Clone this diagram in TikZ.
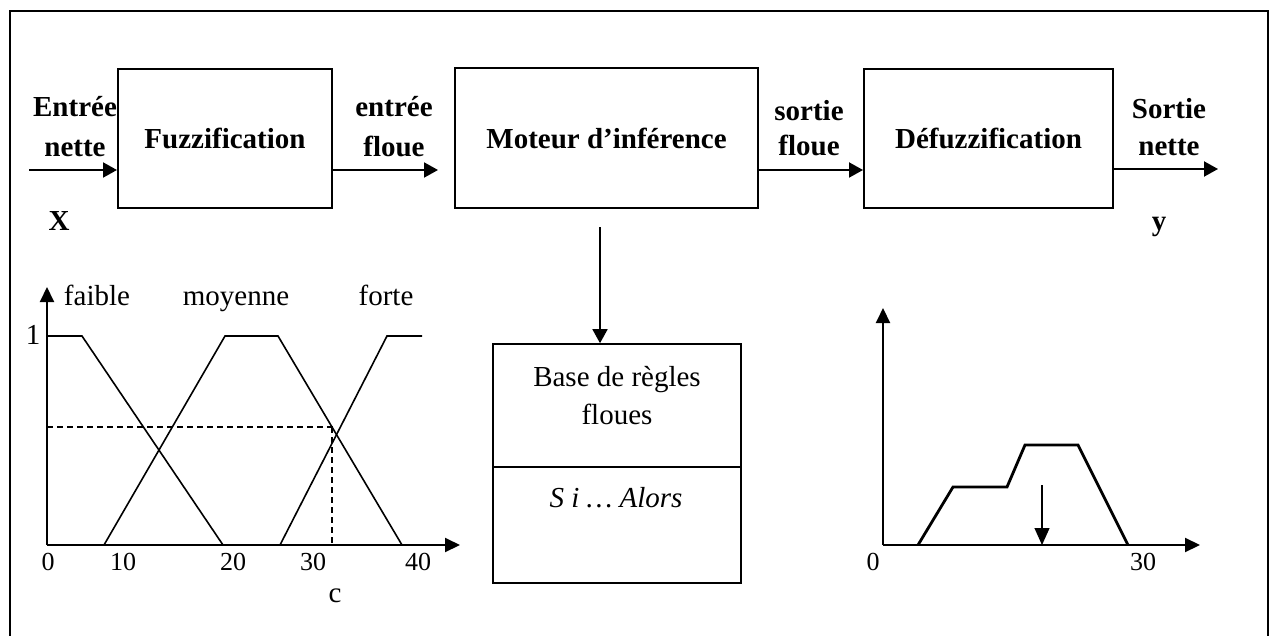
\documentclass[tikz,border=0pt]{standalone}
\usepackage{fontspec}
\setmainfont{Liberation Serif}
\usetikzlibrary{arrows.meta,calc}
\begin{document}
\begin{tikzpicture}[x=0.5pt,y=-0.5pt,
  arr/.style={line width=1pt,-{Triangle[length=7pt,width=7.5pt]}},
  blockbox/.style={draw,line width=1pt,inner sep=0pt,font=\fontsize{14.5}{17}\selectfont\bfseries},
  lbl/.style={inner sep=0pt,align=center,font=\fontsize{14.5}{20}\selectfont\bfseries},
  gtxt/.style={inner sep=0pt,font=\fontsize{14.5}{17}\selectfont},
  num/.style={inner sep=0pt,font=\fontsize{13}{15}\selectfont},
  curve/.style={line width=0.8pt},
  axis/.style={line width=1pt,-{Triangle[length=7.5pt,width=7pt]}},
  dsh/.style={line width=0.8pt,dash pattern=on 3pt off 2pt}]
\useasboundingbox (0,0) rectangle (1272,636);
% outer frame
\draw[line width=1pt] (10,11) rectangle (1268,660);

% blocks
\node[blockbox,minimum width=107pt,minimum height=69.5pt] (fuzz) at (225,138.5) {Fuzzification};
\node[blockbox,minimum width=151.5pt,minimum height=70pt] (mot) at (606.5,138) {Moteur d’inférence};
\node[blockbox,minimum width=124.5pt,minimum height=69.5pt] (defuzz) at (988.5,138.5) {Défuzzification};

% connector end points
\coordinate (inL) at (29,170);
\coordinate (e1) at (438,170);
\coordinate (s1) at (760,170);
\coordinate (out) at (1218,169);
\coordinate (vtop) at (600,227);

\draw[arr] (inL) -- (inL -| fuzz.west);
\draw[arr] (fuzz.east |- e1) -- (e1);
\draw[arr] (mot.east |- s1) -- (s1 -| defuzz.west);
\draw[arr] (defuzz.east |- out) -- (out);

% labels
\node[lbl] (lin) at (75,127) {Entrée\\nette};
\node[lbl] (lef) at (394,127) {entrée\\floue};
\node[lbl,font=\fontsize{14.5}{17.5}\selectfont\bfseries] (lsf) at (809,128) {sortie\\floue};
\node[lbl,font=\fontsize{14.5}{18.5}\selectfont\bfseries] (lsn) at (1169,127) {Sortie\\nette};
\node[lbl,anchor=base] (lx) at (59,230) {X};
\node[lbl,anchor=base] (ly) at (1159,230) {y};

% rule base
\node[draw,line width=0.8pt,minimum width=124pt,minimum height=61.5pt,inner sep=0pt] (rules) at (617,405.5) {};
\node[draw,line width=0.8pt,minimum width=124pt,minimum height=58pt,inner sep=0pt] (sialors) at (617,525) {};
\node[gtxt,align=center,font=\fontsize{14.5}{19}\selectfont] (rtxt) at (617,396) {Base de règles\\floues};
\node[gtxt,font=\fontsize{14.5}{17}\selectfont\itshape] (stxt) at (616,498) {S i … Alors};
\draw[arr,line width=0.8pt] (vtop) -- (vtop |- rules.north);

% left graph
\coordinate (O1) at (47,545);
\coordinate (Y1) at (47,287);
\coordinate (X1) at (460,545);
\draw[axis] (O1) -- (Y1);
\draw[axis] (O1) -- (X1);
\draw[curve] (O1 |- 0,336) -- (82,336) -- (223,545);
\draw[curve] (104,545) -- (225,336) -- (278,336) -- (402,545);
\draw[curve] (280,545) -- (387,336) -- (422,336);
\draw[dsh] (O1 |- 0,427) -- (333,427);
\draw[dsh] (332,427) -- (332,545);
\node[gtxt,anchor=base] (lfa) at (97,305) {faible};
\node[gtxt,anchor=base] (lmo) at (236,305) {moyenne};
\node[gtxt,anchor=base] (lfo) at (386,305) {forte};
\node[gtxt] (l1) at (33,335) {1};
\node[num] (t0) at (48,562) {0};
\node[num] (t10) at (123,562) {10};
\node[num] (t20) at (233,562) {20};
\node[num] (t30) at (313,562) {30};
\node[num] (t40) at (418,562) {40};
\node[gtxt] (lc) at (335,596) {c};

% right graph
\coordinate (O2) at (883,545);
\coordinate (Y2) at (883,308);
\coordinate (X2) at (1200,545);
\draw[axis] (O2) -- (Y2);
\draw[axis] (O2) -- (X2);
\draw[line width=1.4pt,line join=miter] (918,545) -- (953,487) -- (1007,487) -- (1025,445) -- (1078,445) -- (1128,545);
\coordinate (cg) at (1042,485);
\draw[line width=0.6pt,-{Triangle[length=8.5pt,width=7.5pt]}] (cg) -- (cg |- O2);
\node[num] (r0) at (873,562) {0};
\node[num] (r30) at (1143,562) {30};
\end{tikzpicture}
\end{document}
